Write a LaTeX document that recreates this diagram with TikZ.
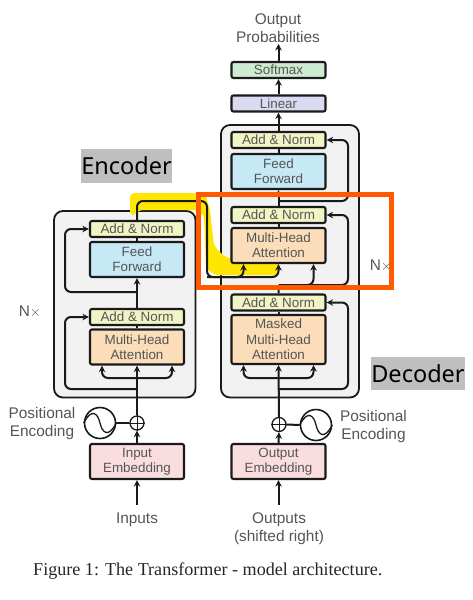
\documentclass[tikz,border=0pt]{standalone}
\usepackage{fontspec}
\setmainfont{Liberation Sans}
\newfontfamily\capfont{Liberation Serif}
\newfontfamily\tagfont{Noto Sans}
\usetikzlibrary{arrows.meta,calc}
\definecolor{txt}{HTML}{555555}
\definecolor{ann}{HTML}{F1F4C4}
\definecolor{ffw}{HTML}{C7E8F5}
\definecolor{mha}{HTML}{FBDDB9}
\definecolor{emb}{HTML}{FADDDF}
\definecolor{sfm}{HTML}{CDEBD0}
\definecolor{lin}{HTML}{DADBF2}
\definecolor{hili}{HTML}{FFE600}
\definecolor{oran}{HTML}{FF5A00}
\definecolor{tagbg}{HTML}{BFBFBF}
\definecolor{ink}{HTML}{1A1A1A}
\tikzset{
  x=1pt,y=-1pt,
  blockbox/.style={draw=ink,line width=2.1pt,rounded corners=2pt,minimum width=94pt,inner sep=0pt,
    align=center,text=txt,font=\fontsize{13.4}{15.3}\selectfont},
  addnorm/.style={blockbox,fill=ann,minimum height=16pt},
  feed/.style={blockbox,fill=ffw,minimum height=35pt},
  attn/.style={blockbox,fill=mha,minimum height=35pt},
  embed/.style={blockbox,fill=emb,minimum height=35pt},
  stack/.style={draw=ink,line width=1.8pt,fill=black!5,rounded corners=9pt},
  label/.style={text=txt,align=center,inner sep=0pt,font=\fontsize{15.4}{18}\selectfont},
  conn/.style={draw=ink,line width=2pt},
  arr/.style={conn,-{Stealth[length=6.5pt,width=6.5pt]}},
  res/.style={arr,rounded corners=6pt},
  tagtext/.style={fill=tagbg,text=black,inner sep=0pt,font=\tagfont\fontsize{23.5}{25}\selectfont},
  osc/.style={circle,draw=ink,line width=1.6pt,minimum size=31pt,inner sep=0pt},
  adder/.style={circle,draw=ink,line width=1.3pt,minimum size=14pt,inner sep=0pt},
}
\begin{document}
\begin{tikzpicture}
\useasboundingbox (0,0) rectangle (472,600);
\fill[white] (0,0) rectangle (472,600);

% stacks
\draw[stack] (54,211) rectangle (195.5,397.5);
\draw[stack] (221,125) rectangle (359,397.5);

% yellow highlight
\fill[hili,rounded corners=4pt] (130,193) -- (205,193) -- (210,210) -- (214,246) -- (226,258) -- (278,258)
  -- (278,275) -- (214,275) -- (206,268) -- (204,215) -- (196,210) -- (138,210) -- (136,215) -- (130,215) -- cycle;

% encoder
\node[addnorm] (eA) at (137,229) {Add \& Norm};
\node[feed] (eF) at (137,259.5) {Feed\\Forward};
\node[addnorm] (eB) at (137,317) {Add \& Norm};
\node[attn] (eM) at (137,347) {Multi-Head\\Attention};
\node[embed] (eE) at (137,461.5) {Input\\Embedding};
\node[adder] (eP) at (137,423) {};
\node[osc] (eS) at (100,423) {};
\node[label] (eL) at (42,423.5) {Positional\\Encoding};
\node[label] (iL) at (137,520) {Inputs};
\node[label] (eN) at (30,312) {N$\times$};

% decoder
\node[addnorm] (dA) at (278.5,140) {Add \& Norm};
\node[feed] (dF) at (278.5,171.5) {Feed\\Forward};
\node[addnorm] (dB) at (278.5,215) {Add \& Norm};
\node[attn] (dM) at (278.5,245.5) {Multi-Head\\Attention};
\node[addnorm] (dC) at (278.5,302.5) {Add \& Norm};
\node[blockbox,fill=mha,minimum height=49pt] (dK) at (278.5,339.5) {Masked\\Multi-Head\\Attention};
\node[embed] (dE) at (278.5,461.5) {Output\\Embedding};
\node[adder] (dP) at (279,424.5) {};
\node[osc] (dS) at (316,425) {};
\node[label] (dL) at (373.5,426.5) {Positional\\Encoding};
\node[label] (oL) at (279,529) {Outputs\\(shifted right)};
\node[label] (dN) at (381,266) {N$\times$};

% top
\node[blockbox,fill=lin,minimum height=16pt] (lin) at (278.5,103.5) {Linear};
\node[blockbox,fill=sfm,minimum height=16pt] (sof) at (278.5,70) {Softmax};
\node[label] (prob) at (278,28) {Output\\Probabilities};

% plain links
\draw[conn] (eF.north) -- (eA.south);
\draw[conn] (eM.north) -- (eB.south);
\draw[conn] (dF.north) -- (dA.south);
\draw[conn] (dM.north) -- (dB.south);
\draw[conn] (dK.north) -- (dC.south);
\draw[conn] (eS.east) -- (eP.west);
\draw[conn] (dS.west) -- (dP.east);

% adder crosses
\draw[ink,line width=1pt] (eP.north) -- (eP.south) (eP.west) -- (eP.east);
\draw[ink,line width=1pt] (dP.north) -- (dP.south) (dP.west) -- (dP.east);

% oscillator waves
\draw[ink,line width=1.3pt] (eS.west) .. controls (92,407) and (98,414) .. (eS.center) .. controls (102,432) and (108,439) .. (eS.east);
\draw[ink,line width=1.3pt] (dS.west) .. controls (308,409) and (314,416) .. (dS.center) .. controls (318,434) and (324,441) .. (dS.east);

% vertical arrows
\draw[arr] (137,505) -- (eE.south);
\draw[arr] (eE.north) -- (eP.south);
\draw[arr] (eP.north) -- (eM.south);
\draw[arr] (eB.north) -- (eF.south);
\draw[arr] (278.5,505) -- (dE.south);
\draw[arr] (dE.north) -- (dP.south);
\draw[arr] (dP.north) -- (dK.south);
\draw[arr] (dB.north) -- (dF.south);
\draw[arr] (dA.north) -- (lin.south);
\draw[arr] (lin.north) -- (sof.south);
\draw[arr] (sof.north) -- ++(0,-17);

% encoder skip connections
\draw[res] (eB.north |- 0,292) -| (65,229) -- (eA.west);
\draw[res] (eP.north |- 0,389) -| (65,317) -- (eB.west);
\draw[res] (137,378) -| ($(eM.south)+(-35,0)$);
\draw[res] (137,378) -| ($(eM.south)+(35,0)$);

% decoder skip connections
\draw[res] (dB.north |- 0,201) -| (348,140) -- (dA.east);
\draw[res] (dC.north |- 0,285) -| (348,215) -- (dB.east);
\draw[res] (dP.north |- 0,389) -| (348,302.5) -- (dC.east);
\draw[res] (278.5,378) -| ($(dK.south)+(-35,0)$);
\draw[res] (278.5,378) -| ($(dK.south)+(35,0)$);
\draw[res] (dC.north) |- (300,285) -| ($(dM.south)+(35,0)$);

% cross attention
\draw[res] (eA.north) |- (207,201) -- (207,277) -| ($(dM.south)+(-35,0)$);
\draw[res] (207,277) -| (dM.south);

% tags
\node[tagtext,minimum width=91pt,minimum height=34pt] (enc) at (126.5,166) {Encoder};
\node[tagtext,minimum width=94pt,minimum height=33pt] (dec) at (418,373.5) {Decoder};

% orange frame
\draw[oran,line width=5pt] (198.5,194.5) rectangle (391.5,287.5);

% caption
\node[anchor=west,inner sep=0pt,text=black!85,font=\capfont\fontsize{18.1}{20}\selectfont] (cap) at (33,571.5) {Figure 1: The Transformer - model architecture.};
\end{tikzpicture}
\end{document}
